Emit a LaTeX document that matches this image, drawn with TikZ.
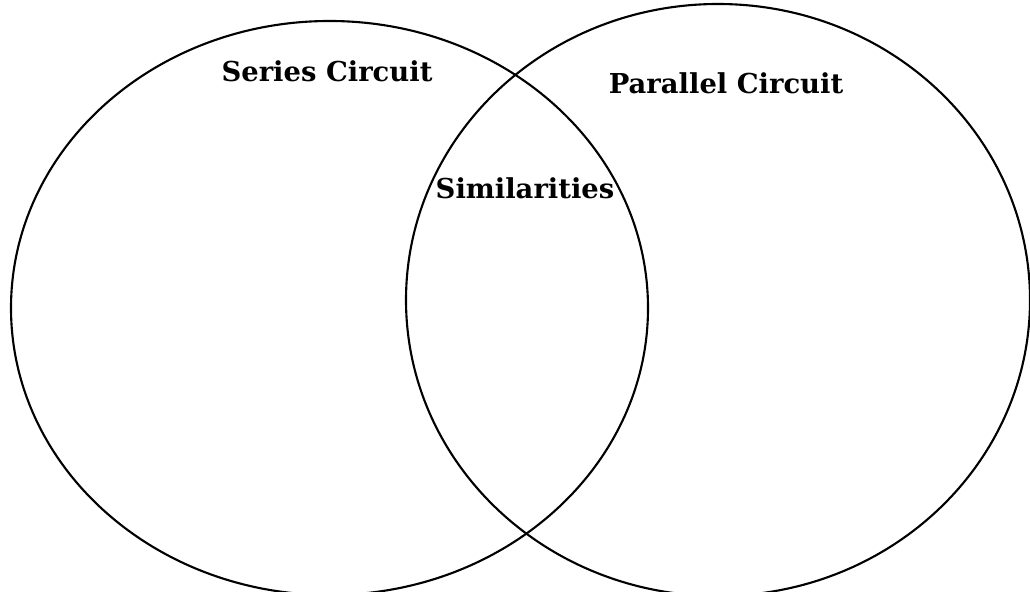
\documentclass[tikz,border=0pt]{standalone}
\usepackage{fontspec}
\setmainfont{DejaVu Serif}
\usepackage{tikz}

\tikzset{
    ring/.style={line width=1.2pt},
    lbl/.style={font=\fontsize{15.6}{18}\selectfont\bfseries, inner sep=1pt}
}

\begin{document}
\begin{tikzpicture}[x=0.02cm, y=0.02cm]
    \useasboundingbox (0,0) rectangle (1030,591);
    \draw[ring] (329.5,283) ellipse [x radius=318.5, y radius=287];
    \draw[ring] (718,291) ellipse [x radius=312, y radius=296];
    \node[lbl] (series) at (327,520) {Series Circuit};
    \node[lbl] (parallel) at (726,508) {Parallel Circuit};
    \node[lbl] (similar) at (525,403) {Similarities};
\end{tikzpicture}
\end{document}
